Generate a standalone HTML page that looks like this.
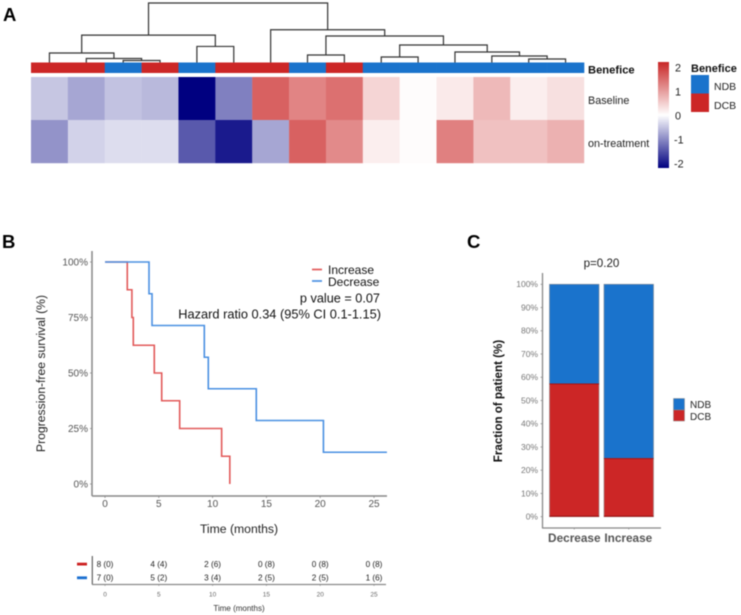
<!DOCTYPE html>
<html>
<head>
<meta charset="utf-8">
<title>Heatmap, survival and response figure</title>
<style>
html,body{margin:0;padding:0;background:#fff;width:741px;height:615px;overflow:hidden}
svg{display:block;filter:blur(0.5px)}
text{font-family:"Liberation Sans",sans-serif}
</style>
</head>
<body>
<svg id="fig" xmlns="http://www.w3.org/2000/svg" width="741" height="615" viewBox="0 0 741 615">
  <defs>
    <linearGradient id="cbar" x1="0" y1="0" x2="0" y2="1">
      <stop offset="0" stop-color="#c82626"/>
      <stop offset="0.5" stop-color="#ffffff"/>
      <stop offset="1" stop-color="#000080"/>
    </linearGradient>
  </defs>
  <rect width="741" height="615" fill="#fff"/>
  <text x="3" y="21" font-size="18.5" font-weight="bold">A</text>
  <text x="2" y="248" font-size="18.5" font-weight="bold">B</text>
  <text x="467" y="248" font-size="18.5" font-weight="bold">C</text>

  <g id="panelA">
    <g id="dendro" fill="none" stroke="#333" stroke-width="1.2"></g>
    <g id="annot"></g>
    <g id="heat"></g>
    <text x="588" y="73.5" font-size="11.2" font-weight="bold" fill="#111">Benefice</text>
    <text x="588" y="104" font-size="10.8" fill="#222">Baseline</text>
    <text x="588" y="147" font-size="10.8" fill="#222">on-treatment</text>
    <rect x="658" y="62" width="11" height="106" fill="url(#cbar)"/>
    <g id="cbarLabels"></g>
    <text x="691" y="72" font-size="11" font-weight="bold" fill="#111">Benefice</text>
    <rect x="691" y="75" width="18" height="18.5" fill="#1a73cc"/>
    <rect x="691" y="93.5" width="18" height="18.5" fill="#cc2626"/>
    <text x="714" y="90" font-size="10.5" fill="#222">NDB</text>
    <text x="714" y="109" font-size="10.5" fill="#222">DCB</text>
  </g>

  <g id="panelB">
    <line x1="92" y1="251" x2="92" y2="496" stroke="#888" stroke-width="1.5"/>
    <line x1="92" y1="496" x2="387" y2="496" stroke="#888" stroke-width="1.5"/>
    <g id="kmAxes"></g>
    <g id="kmCurves"></g>
    <text transform="translate(45,373.5) rotate(-90)" text-anchor="middle" font-size="12.2" fill="#222">Progression-free survival (%)</text>
    <text x="239" y="533" text-anchor="middle" font-size="12.2" fill="#222">Time (months)</text>
    <line x1="312" y1="269.5" x2="322" y2="269.5" stroke="#e25a5a" stroke-width="1.7"/>
    <line x1="312" y1="281" x2="322" y2="281" stroke="#4a90e2" stroke-width="1.7"/>
    <text x="328" y="274" font-size="12" fill="#111">Increase</text>
    <text x="328" y="286" font-size="12" fill="#111">Decrease</text>
    <text x="380" y="302.5" text-anchor="end" font-size="12.7" fill="#111">p value = 0.07</text>
    <text x="381" y="318.5" text-anchor="end" font-size="12.8" fill="#111">Hazard ratio 0.34 (95% CI 0.1-1.15)</text>
    <rect x="77" y="562.7" width="10" height="2.8" fill="#cc2020"/>
    <rect x="77" y="576.4" width="10" height="2.8" fill="#1a6fd0"/>
    <line x1="92.3" y1="556" x2="92.3" y2="584.5" stroke="#555" stroke-width="1.1"/>
    <line x1="92" y1="584.5" x2="386" y2="584.5" stroke="#888" stroke-width="1.2"/>
    <g id="risk"></g>
    <text x="239" y="611" text-anchor="middle" font-size="8" fill="#333">Time (months)</text>
  </g>

  <g id="panelC">
    <text x="601.5" y="267" text-anchor="middle" font-size="11.6" fill="#222">p=0.20</text>
    <line x1="542.5" y1="273" x2="542.5" y2="528" stroke="#888" stroke-width="1.3"/>
    <line x1="542" y1="528" x2="661" y2="528" stroke="#888" stroke-width="1.3"/>
    <g id="barAxes"></g>
    <g id="bars"></g>
    <text transform="translate(502,401) rotate(-90)" text-anchor="middle" font-size="11.6" font-weight="bold" fill="#111">Fraction of patient (%)</text>
    <rect x="673.5" y="398.5" width="11" height="11.5" fill="#1a73cc" stroke="#888" stroke-width="0.5"/>
    <rect x="673.5" y="410" width="11" height="11" fill="#cc2626" stroke="#888" stroke-width="0.5"/>
    <text x="690" y="408" font-size="10" fill="#222">NDB</text>
    <text x="690" y="420" font-size="10" fill="#222">DCB</text>
  </g>
</svg>
<script>
/* ---------- Panel A data ---------- */
const baselineValues = [-0.45,-0.7,-0.48,-0.55,-2,-1.0,1.42,1.1,1.28,0.38,0.03,0.19,0.63,0.15,0.28];
const onTreatmentValues = [-0.85,-0.35,-0.27,-0.27,-1.3,-1.8,-0.7,1.42,1.05,0.15,0.03,1.14,0.56,0.56,0.7];
const benefitClasses = ['DCB','DCB','NDB','DCB','NDB','DCB','DCB','NDB','DCB','NDB','NDB','NDB','NDB','NDB','NDB'];
const colorbarTicks = [2,1,0,-1,-2];
/* merge tree: [merge distance, left child, right child]; a number child is a column index */
const dendrogramTree = [10,[4.6,[1.6,0,[0.67,1,[0.34,2,3]]],[2.7,4,5]],[5.5,6,[4.45,[1.26,7,8],[2.94,[0.92,9,10],[1.76,11,[1.09,12,[0.59,13,14]]]]]]];

/* ---------- Panel B data ---------- */
const increaseTimes = [0,2.07,2.5,2.63,4.58,5.27,6.94,10.84,11.6];
const increaseSurvival = [100,87.5,75,62.5,50,37.5,25,12.5,0];
const decreaseTimes = [0,4.09,4.37,9.23,9.6,14.06,20.3];
const decreaseSurvival = [100,85.7,71.4,57.1,42.9,28.6,14.3];
const decreaseEndTime = 26.2;
const survivalTicks = [0,25,50,75,100];
const timeTicks = [0,5,10,15,20,25];
const riskIncrease = ['8 (0)','4 (4)','2 (6)','0 (8)','0 (8)','0 (8)'];
const riskDecrease = ['7 (0)','5 (2)','3 (4)','2 (5)','2 (5)','1 (6)'];

/* ---------- Panel C data ---------- */
const barCategories = ['Decrease','Increase'];
const dcbFractions = [57.1,25];
const ndbFractions = [42.9,75];
const fractionTicks = [0,10,20,30,40,50,60,70,80,90,100];

/* ---------- helpers ---------- */
const NS = 'http://www.w3.org/2000/svg';
function mk(tag, attrs, parent){
  const el = document.createElementNS(NS, tag);
  for (const k in attrs) el.setAttribute(k, attrs[k]);
  parent.appendChild(el);
  return el;
}
function byId(i){ return document.getElementById(i); }

/* ---------- axis functions ---------- */
const colX = i => 31 + i * (553 / 15);
const colCenter = i => colX(i + 0.5);
const dendroY = h => 62.5 - h * 5.95;
const cbarY = v => 115.5 - v * 24.1;
const kmX = t => 105 + t * 10.76;
const kmY = s => 484 - s * 2.22;
const fracY = f => 516.7 - f * 2.324;
const barLeft = [549.5, 604];
const barWidth = 49.5;

function heatColor(v){
  const c = Math.max(-2, Math.min(2, v)) / 2;
  const end = c >= 0 ? [200,32,32] : [0,0,128];
  const t = Math.abs(c);
  const mix = j => Math.round(255 + (end[j] - 255) * t);
  return 'rgb(' + mix(0) + ',' + mix(1) + ',' + mix(2) + ')';
}

/* ---------- heatmap ---------- */
benefitClasses.forEach((cls, i) => {
  const r = mk('rect', {x: colX(i), y: 62.5, width: 553 / 15 + 0.3, height: 10.5, fill: cls === 'NDB' ? '#1a73cc' : '#cc2626'}, byId('annot'));
  
  
});
[baselineValues, onTreatmentValues].forEach((row, ri) => {
  row.forEach((v, i) => {
    const r = mk('rect', {x: colX(i), y: 77 + ri * 43, width: 553 / 15 + 0.2, height: 43.2, fill: heatColor(v)}, byId('heat'));
    
    
  });
});
colorbarTicks.forEach(v => {
  const t = mk('text', {x: v < 0 ? 674 : 675, y: cbarY(v) + 4, 'font-size': 10.8, fill: '#222'}, byId('cbarLabels'));
  
  
  t.textContent = String(v);
});

/* ---------- dendrogram ---------- */
function drawNode(node){
  if (typeof node === 'number') return {x: colCenter(node), y: dendroY(0)};
  const a = drawNode(node[1]);
  const b = drawNode(node[2]);
  const y = dendroY(node[0]);
  const p = mk('path', {d: 'M' + a.x + ' ' + a.y + 'V' + y + 'H' + b.x + 'V' + b.y}, byId('dendro'));
  
  
  return {x: (a.x + b.x) / 2, y: y};
}
drawNode(dendrogramTree);

/* ---------- survival axes ---------- */
survivalTicks.forEach(s => {
  const t = mk('text', {x: 88, y: kmY(s) + 3.5, 'text-anchor': 'end', 'font-size': 10, fill: '#555'}, byId('kmAxes'));
  
  
  t.textContent = s + '%';
  const k = mk('line', {x1: 90, x2: 92, y1: kmY(s), y2: kmY(s), stroke: '#888', 'stroke-width': 0.8}, byId('kmAxes'));
  
  
});
timeTicks.forEach(m => {
  const t = mk('text', {x: kmX(m), y: 507, 'text-anchor': 'middle', 'font-size': 10, fill: '#555'}, byId('kmAxes'));
  
  
  t.textContent = String(m);
  const k = mk('line', {x1: kmX(m), x2: kmX(m), y1: 496, y2: 498, stroke: '#888', 'stroke-width': 0.8}, byId('kmAxes'));
  
  
});

/* ---------- survival curves ---------- */
function stepPath(times, surv, endTime){
  let d = 'M' + kmX(times[0]) + ' ' + kmY(surv[0]);
  for (let i = 1; i < times.length; i++) {
    d += 'H' + kmX(times[i]) + 'V' + kmY(surv[i]);
  }
  if (endTime !== undefined) d += 'H' + kmX(endTime);
  return d;
}
const curveIncrease = mk('path', {d: stepPath(increaseTimes, increaseSurvival), fill: 'none', stroke: '#e25a5a', 'stroke-width': 1.6}, byId('kmCurves'));


const curveDecrease = mk('path', {d: stepPath(decreaseTimes, decreaseSurvival, decreaseEndTime), fill: 'none', stroke: '#4a90e2', 'stroke-width': 1.6}, byId('kmCurves'));



/* ---------- risk table ---------- */
timeTicks.forEach((m, i) => {
  const a = mk('text', {x: kmX(m), y: 567, 'text-anchor': 'middle', 'font-size': 8.2, fill: '#222'}, byId('risk'));
  
  
  a.textContent = riskIncrease[i];
  const b = mk('text', {x: kmX(m), y: 580.7, 'text-anchor': 'middle', 'font-size': 8.2, fill: '#222'}, byId('risk'));
  
  
  b.textContent = riskDecrease[i];
  const c = mk('text', {x: kmX(m), y: 596.5, 'text-anchor': 'middle', 'font-size': 6.5, fill: '#666'}, byId('risk'));
  
  
  c.textContent = String(m);
  const k = mk('line', {x1: kmX(m), x2: kmX(m), y1: 584.5, y2: 586, stroke: '#888', 'stroke-width': 0.6}, byId('risk'));
  
  
});

/* ---------- stacked bars ---------- */
fractionTicks.forEach(f => {
  const t = mk('text', {x: 538, y: fracY(f) + 2.9, 'text-anchor': 'end', 'font-size': 8.5, fill: '#777'}, byId('barAxes'));
  
  
  t.textContent = f + '%';
  const k = mk('line', {x1: 540.5, x2: 542.5, y1: fracY(f), y2: fracY(f), stroke: '#888', 'stroke-width': 0.7}, byId('barAxes'));
  
  
});
barCategories.forEach((name, i) => {
  const cx = barLeft[i] + barWidth / 2;
  const top = fracY(dcbFractions[i] + ndbFractions[i]);
  const mid = fracY(dcbFractions[i]);
  const base = fracY(0);
  const n = mk('rect', {x: barLeft[i], y: top, width: barWidth, height: mid - top, fill: '#1a73cc', stroke: '#7d8a99', 'stroke-width': 0.7}, byId('bars'));
  
  
  const d = mk('rect', {x: barLeft[i], y: mid, width: barWidth, height: base - mid, fill: '#cc2626', stroke: '#9a8a8a', 'stroke-width': 0.7}, byId('bars'));
  
  
  const e1 = mk('line', {x1: barLeft[i], x2: barLeft[i] + barWidth, y1: mid, y2: mid, stroke: '#a81010', 'stroke-width': 1}, byId('bars'));
  
  
  const e2 = mk('line', {x1: barLeft[i], x2: barLeft[i] + barWidth, y1: base - 0.5, y2: base - 0.5, stroke: '#a01010', 'stroke-width': 1.2}, byId('bars'));
  
  
  const k = mk('line', {x1: cx, x2: cx, y1: 528, y2: 529.5, stroke: '#888', 'stroke-width': 0.7}, byId('barAxes'));
  
  
  const t = mk('text', {x: i === 0 ? 574.3 : 628.3, y: 541.8, 'text-anchor': 'middle', 'font-size': 11.8, 'font-weight': 'bold', fill: '#555'}, byId('barAxes'));
  
  
  t.textContent = name;
});
</script>
</body>
</html>
